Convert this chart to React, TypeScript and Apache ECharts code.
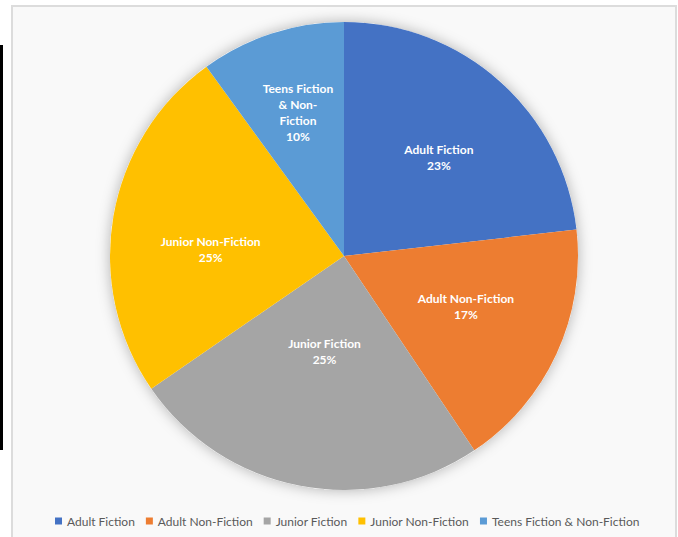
import React, { useEffect, useRef } from "react";
import * as echarts from "echarts";

const categories = [
  "Adult Fiction",
  "Adult Non-Fiction",
  "Junior Fiction",
  "Junior Non-Fiction",
  "Teens Fiction & Non-Fiction",
];
const shares = [23.2, 17.4, 24.8, 24.6, 10.0];
const labelNames = [
  "Adult Fiction",
  "Adult Non-Fiction",
  "Junior Fiction",
  "Junior Non-Fiction",
  "Teens Fiction\n& Non-\nFiction",
];
const colors = ["#4472C4", "#ED7D31", "#A5A5A5", "#FFC000", "#5B9BD5"];
const labelOffsets = [
  [15, -9],
  [13, 0],
  [3, -22],
  [-15, 14],
  [-9, -29],
];

export default function App() {
  const ref = useRef<HTMLDivElement>(null);
  useEffect(() => {
    if (!ref.current) return;
    const chart = echarts.init(ref.current, null, { renderer: "svg" });
    const total = shares.reduce((a, b) => a + b, 0);
    chart.setOption({
      animation: false,
      color: colors,
      legend: {
        data: categories,
        top: 510,
        left: 50,
        itemWidth: 7,
        itemHeight: 7,
        itemGap: 11,
        icon: "rect",
        textStyle: { color: "#595959", fontSize: 12, fontFamily: "Lato" },
      },
      series: [
        {
          type: "pie",
          silent: true,
          z: 1,
          center: [344, 256],
          radius: 234,
          label: { show: false },
          labelLine: { show: false },
          itemStyle: {
            color: "#ffffff",
            shadowBlur: 14,
            shadowColor: "rgba(0,0,0,0.3)",
          },
          data: [{ name: "", value: total }],
        },
        {
          type: "pie",
          z: 2,
          center: [344, 256],
          radius: 234,
          startAngle: 90,
          clockwise: true,
          labelLine: { show: false },
          itemStyle: { borderWidth: 0 },
          label: {
            show: true,
            position: "inside",
            color: "#ffffff",
            fontWeight: "bold",
            fontSize: 12,
            lineHeight: 16,
            fontFamily: "Lato",
            align: "center",
            formatter: (p: any) =>
              labelNames[p.dataIndex] + "\n" + Math.round(p.percent) + "%",
          },
          data: categories.map((c, i) => ({
            name: c,
            value: shares[i],
            label: { offset: labelOffsets[i] },
          })),
        },
      ],
    });
    return () => chart.dispose();
  }, []);

  return (
    <div style={{ position: "fixed", left: 0, top: 0, width: 678, height: 537, background: "#ffffff", overflow: "hidden" }}>
      <div style={{ position: "absolute", left: 0, top: 45, width: 3, height: 405, background: "#000000" }} />
      <div
        style={{
          position: "absolute",
          left: 11,
          top: 5,
          width: 662,
          height: 560,
          background: "#f9f9f9",
          border: "2px solid #dcdcdc",
        }}
      />
      <div ref={ref} style={{ position: "absolute", left: 0, top: 0, width: 678, height: 537 }} />
    </div>
  );
}
